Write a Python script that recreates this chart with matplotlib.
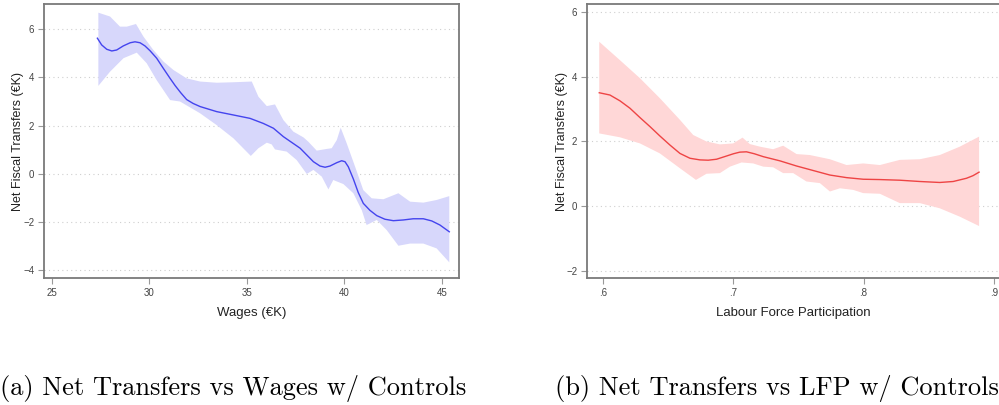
import numpy as np
import matplotlib
matplotlib.use("Agg")
import matplotlib.pyplot as plt

plt.rcParams['font.family'] = ['Liberation Sans', 'DejaVu Sans']

# ---- panel (a): net transfers vs wages ----
wage_x = [27.34, 27.56, 27.82, 28.08, 28.33, 28.67, 29.02, 29.27, 29.53, 29.78,
          30.04, 30.38, 30.72, 31.07, 31.33, 31.62, 31.92, 32.25, 32.61, 33.46,
          34.32, 35.17, 35.85, 36.37, 36.88, 37.74, 38.08, 38.42, 38.76, 39.02,
          39.27, 39.62, 39.87, 40.04, 40.21, 40.47, 40.72, 40.98, 41.32, 41.67,
          42.09, 42.52, 43.03, 43.54, 44.06, 44.49, 44.91, 45.39]
wage_fit = [5.63, 5.35, 5.17, 5.10, 5.14, 5.31, 5.44, 5.48, 5.44, 5.31,
            5.11, 4.80, 4.38, 3.96, 3.66, 3.36, 3.08, 2.92, 2.79, 2.58,
            2.44, 2.30, 2.09, 1.89, 1.54, 1.06, 0.78, 0.50, 0.32, 0.27,
            0.32, 0.46, 0.54, 0.50, 0.29, -0.22, -0.78, -1.23, -1.52, -1.74,
            -1.89, -1.95, -1.92, -1.87, -1.87, -1.96, -2.13, -2.41]

wage_hi_x = [27.39, 27.99, 28.50, 28.85, 29.32, 29.70, 30.21, 30.73, 31.24, 31.92,
             32.61, 33.46, 34.32, 35.26, 35.60, 36.03, 36.45, 36.88, 37.39, 37.91,
             38.16, 38.59, 39.10, 39.36, 39.62, 39.82, 40.13, 40.56, 40.98, 41.41,
             42.01, 42.78, 43.38, 44.06, 44.74, 45.39]
wage_hi = [6.69, 6.53, 6.11, 6.11, 6.22, 5.70, 5.14, 4.66, 4.31, 3.96,
           3.83, 3.78, 3.80, 3.83, 3.20, 2.81, 2.88, 2.23, 1.75, 1.51,
           1.33, 0.96, 1.03, 1.06, 1.40, 1.91, 1.26, 0.29, -0.68, -1.02,
           -1.06, -0.81, -1.16, -1.20, -1.09, -0.93]

wage_lo_x = [27.39, 27.99, 28.68, 29.36, 29.87, 30.38, 31.07, 31.58, 32.61, 33.46,
             34.32, 35.21, 35.60, 36.03, 36.28, 36.45, 37.05, 37.56, 38.08, 38.42,
             38.85, 39.19, 39.44, 39.96, 40.47, 40.90, 41.15, 41.67, 42.18, 42.78,
             43.38, 44.06, 44.74, 45.39]
wage_lo = [3.65, 4.24, 4.80, 5.03, 4.59, 3.89, 3.06, 3.00, 2.51, 2.02,
           1.47, 0.74, 1.06, 1.29, 1.22, 1.01, 0.92, 0.57, -0.01, 0.16,
           -0.12, -0.65, -0.26, -0.43, -0.81, -1.51, -2.13, -1.92, -2.34, -2.99,
           -2.90, -2.90, -3.10, -3.68]

# ---- panel (b): net transfers vs labour force participation ----
lfp_x = [0.5969, 0.6051, 0.6128, 0.6205, 0.6282, 0.6359, 0.6435, 0.6512, 0.6589,
         0.6666, 0.6742, 0.6806, 0.6870, 0.6947, 0.7000, 0.7049, 0.7100, 0.7160,
         0.7229, 0.7357, 0.7485, 0.7613, 0.7741, 0.7869, 0.7997, 0.8125, 0.8278,
         0.8432, 0.8585, 0.8688, 0.8790, 0.8840, 0.8887]
lfp_fit = [3.51, 3.44, 3.26, 3.03, 2.74, 2.46, 2.17, 1.89, 1.63,
           1.48, 1.43, 1.42, 1.45, 1.55, 1.62, 1.67, 1.68, 1.62,
           1.53, 1.40, 1.24, 1.10, 0.96, 0.88, 0.83, 0.82, 0.80,
           0.76, 0.73, 0.76, 0.86, 0.94, 1.05]

lfp_hi_x = [0.5969, 0.6128, 0.6282, 0.6435, 0.6589, 0.6691, 0.6793, 0.6896, 0.6998,
            0.7070, 0.7126, 0.7203, 0.7305, 0.7382, 0.7485, 0.7587, 0.7741, 0.7869,
            0.7997, 0.8125, 0.8278, 0.8432, 0.8585, 0.8739, 0.8887]
lfp_hi = [5.09, 4.52, 3.96, 3.34, 2.67, 2.20, 2.00, 1.91, 1.94,
          2.12, 1.92, 1.84, 1.76, 1.87, 1.61, 1.58, 1.45, 1.27,
          1.32, 1.27, 1.43, 1.45, 1.58, 1.84, 2.15]

lfp_lo_x = [0.5969, 0.6128, 0.6282, 0.6435, 0.6589, 0.6712, 0.6793, 0.6896, 0.6973,
            0.7062, 0.7152, 0.7229, 0.7305, 0.7382, 0.7459, 0.7561, 0.7664, 0.7741,
            0.7818, 0.7920, 0.7997, 0.8125, 0.8278, 0.8432, 0.8585, 0.8739, 0.8887]
lfp_lo = [2.25, 2.13, 1.94, 1.63, 1.17, 0.81, 1.00, 1.02, 1.22,
          1.35, 1.32, 1.22, 1.20, 1.02, 1.02, 0.76, 0.71, 0.45,
          0.55, 0.50, 0.40, 0.38, 0.09, 0.09, -0.07, -0.33, -0.62]

wage_ticks = [25, 30, 35, 40, 45]
wage_yticks = [-4, -2, 0, 2, 4, 6]
lfp_ticks = [0.6, 0.7, 0.8, 0.9]
lfp_ticklabels = ['.6', '.7', '.8', '.9']
lfp_yticks = [-2, 0, 2, 4, 6]

ylabel = 'Net Fiscal Transfers (€K)'
captions = ['(a) Net Transfers vs Wages w/ Controls',
            '(b) Net Transfers vs LFP w/ Controls']

SPINE = '#7a7a7a'


def style_axes(ax):
    for side in ['left', 'bottom', 'top', 'right']:
        ax.spines[side].set_color(SPINE)
        ax.spines[side].set_linewidth(1.3)
    ax.tick_params(direction='out', length=4, width=0.8, color='#999999',
                   labelsize=7, labelcolor='#444444', pad=3)
    ax.grid(axis='y', linestyle=(0, (1, 3)), color='#cfcfcf', linewidth=0.8)
    ax.set_axisbelow(True)


def draw_panel(ax, x, fit, hx, hi, lx, lo, line_col, fill_col):
    # band drawn as one polygon: upper edge left->right, lower edge back
    poly_x = list(hx) + list(lx)[::-1]
    poly_y = list(hi) + list(lo)[::-1]
    ax.fill(poly_x, poly_y, color=fill_col, linewidth=0, zorder=2)
    ax.plot(x, fit, color=line_col, linewidth=1.0, zorder=3,
            solid_joinstyle='round')


fig = plt.figure(figsize=(9.99, 4.05), dpi=100)

ax1 = fig.add_axes([0.044, 0.3136, 0.4155, 0.6765])
draw_panel(ax1, wage_x, wage_fit, wage_hi_x, wage_hi, wage_lo_x, wage_lo,
           '#4444ee', '#d7d7fb')
ax1.set_xlim(24.6, 45.89)
ax1.set_ylim(-4.33, 7.05)
ax1.set_xticks(wage_ticks)
ax1.set_yticks(wage_yticks)
style_axes(ax1)
ax1.set_xlabel('Wages (€K)', fontsize=9.5, color='#222222', labelpad=7)
ax1.set_ylabel(ylabel, fontsize=9, color='#222222', labelpad=-1)

ax2 = fig.add_axes([0.5876, 0.3136, 0.4124, 0.6765])
draw_panel(ax2, lfp_x, lfp_fit, lfp_hi_x, lfp_hi, lfp_lo_x, lfp_lo,
           '#ee4444', '#ffd7d7')
ax2.set_xlim(0.5875, 0.904)
ax2.set_ylim(-2.23, 6.26)
ax2.set_xticks(lfp_ticks)
ax2.set_xticklabels(lfp_ticklabels)
ax2.set_yticks(lfp_yticks)
style_axes(ax2)
ax2.spines['right'].set_visible(False)
ax2.set_xlabel('Labour Force Participation', fontsize=9.5, color='#222222', labelpad=7)
ax2.set_ylabel(ylabel, fontsize=9, color='#222222', labelpad=-1)

fig.text(0.0, 0.008, captions[0], family='cmr10', fontsize=19, ha='left', va='bottom')
fig.text(1.0, 0.008, captions[1], family='cmr10', fontsize=19, ha='right', va='bottom')

fig.savefig('out.png', dpi=100)
